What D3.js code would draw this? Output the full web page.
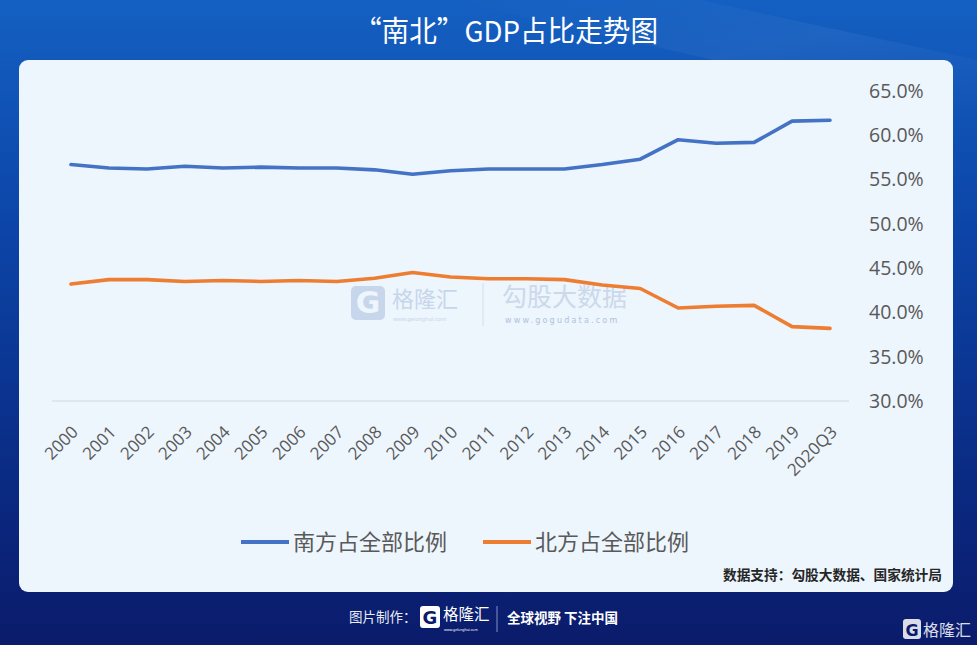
<!DOCTYPE html>
<html><head><meta charset="utf-8">
<script src="https://cdn.jsdelivr.net/npm/d3@7"></script>
<style>html,body{margin:0;padding:0;background:#0b1b6b;}svg{display:block;}</style>
</head><body>
<script>
const categories = ["2000","2001","2002","2003","2004","2005","2006","2007","2008","2009","2010","2011","2012","2013","2014","2015","2016","2017","2018","2019","2020Q3"];
const south = [56.7,56.3,56.2,56.5,56.3,56.4,56.3,56.3,56.1,55.6,56.0,56.2,56.2,56.2,56.7,57.3,59.5,59.1,59.2,61.6,61.7];
const north = [43.2,43.7,43.7,43.5,43.6,43.5,43.6,43.5,43.85,44.5,44.0,43.8,43.8,43.7,43.1,42.7,40.5,40.7,40.8,38.4,38.2];
const yTicks = [30,35,40,45,50,55,60,65];
const seriesNames = ["南方占全部比例","北方占全部比例"];
const colors = ["#4472C4","#ED7D31"];

const W=977,H=645;
const svg=d3.select("body").append("svg").attr("width",W).attr("height",H);
const defs=svg.append("defs");
const g1=defs.append("linearGradient").attr("id","bg").attr("x1",0).attr("y1",0).attr("x2",0).attr("y2",1);
g1.append("stop").attr("offset","0%").attr("stop-color","#1460c2");
g1.append("stop").attr("offset","35%").attr("stop-color","#0c45a8");
g1.append("stop").attr("offset","75%").attr("stop-color","#0a2a82");
g1.append("stop").attr("offset","100%").attr("stop-color","#0b1b6b");
svg.append("rect").attr("width",W).attr("height",H).attr("fill","url(#bg)");
const g2=defs.append("linearGradient").attr("id","streak").attr("x1",0).attr("y1",0).attr("x2",1).attr("y2",1);
g2.append("stop").attr("offset","0%").attr("stop-color","#ffffff").attr("stop-opacity",0);
g2.append("stop").attr("offset","50%").attr("stop-color","#ffffff").attr("stop-opacity",0.05);
g2.append("stop").attr("offset","100%").attr("stop-color","#ffffff").attr("stop-opacity",0);
svg.append("path").attr("d","M450,0 L700,0 L977,60 L977,120 Z").attr("fill","url(#streak)");

// title
svg.append("text").attr("x",506).attr("y",42).attr("text-anchor","middle")
  .attr("font-family","'Noto Sans CJK SC','Noto Sans',sans-serif").attr("font-size",29)
  .attr("fill","#fff").attr("textLength",304).attr("lengthAdjust","spacingAndGlyphs").text("“南北”GDP占比走势图");

// card
svg.append("rect").attr("x",19).attr("y",60).attr("width",934).attr("height",532).attr("rx",9).attr("fill","#edf5fd");

// scales
const x=d3.scalePoint().domain(categories).range([71,830]);
const y=d3.scaleLinear().domain([30,65]).range([401,91]);

// watermark
const wm=svg.append("g").attr("opacity",0.9);
wm.append("rect").attr("x",351).attr("y",286).attr("width",34).attr("height",34).attr("rx",5).attr("fill","#c3d3ea");
wm.append("text").attr("x",368).attr("y",313).attr("text-anchor","middle").attr("font-family","'DejaVu Sans',sans-serif").attr("font-weight","bold").attr("font-size",30).attr("fill","#edf5fd").text("G");
wm.append("text").attr("x",392).attr("y",307).attr("font-family","'Noto Sans CJK SC',sans-serif").attr("font-size",22).attr("fill","#c3d3ea").text("格隆汇");
wm.append("text").attr("x",393).attr("y",321).attr("font-family","'Noto Sans',sans-serif").attr("font-size",5.5).attr("fill","#c3d3ea").text("www.gelonghui.com");
wm.append("line").attr("x1",483).attr("x2",483).attr("y1",283).attr("y2",326).attr("stroke","#d0dcec").attr("stroke-width",1);
wm.append("text").attr("x",502).attr("y",306).attr("font-family","'Noto Sans CJK SC',sans-serif").attr("font-size",25).attr("fill","#c8d6ea").text("勾股大数据");
wm.append("text").attr("x",505).attr("y",323).attr("font-family","'DejaVu Sans',sans-serif").attr("font-size",8).attr("letter-spacing",2.2).attr("fill","#a9bddb").text("www.gogudata.com");

// axis line
svg.append("line").attr("x1",52).attr("x2",849).attr("y1",y(30)).attr("y2",y(30)).attr("stroke","#d4d8de").attr("stroke-width",1.2);

// y tick labels
svg.append("g").selectAll("text").data(yTicks).join("text")
  .attr("x",869).attr("y",d=>y(d)).attr("dy","0.35em")
  .attr("font-family","'Open Sans','Noto Sans',sans-serif").attr("font-size",19.5).attr("fill","#595959")
  .text(d=>d.toFixed(1)+"%");

// x labels
svg.append("g").selectAll("text").data(categories).join("text")
  .attr("transform",d=>`translate(${x(d)+4},${429}) rotate(-45)`)
  .attr("text-anchor","end").attr("dy","0.35em")
  .attr("font-family","'Open Sans','Noto Sans',sans-serif").attr("font-size",17).attr("fill","#595959")
  .text(d=>d);

// lines
const line=d3.line().x((d,i)=>x(categories[i])).y(d=>y(d));
[south,north].forEach((s,i)=>{
  svg.append("path").datum(s).attr("d",line).attr("fill","none").attr("stroke",colors[i])
    .attr("stroke-width",3.6).attr("stroke-linejoin","round").attr("stroke-linecap","round");
});

// legend
const legX=[241,483];
seriesNames.forEach((n,i)=>{
  svg.append("line").attr("x1",legX[i]).attr("x2",legX[i]+48).attr("y1",542).attr("y2",542).attr("stroke",colors[i]).attr("stroke-width",4);
  svg.append("text").attr("x",legX[i]+52).attr("y",542).attr("dy","0.35em")
    .attr("font-family","'Noto Sans CJK SC',sans-serif").attr("font-size",22).attr("fill","#595959").text(n);
});

// source
svg.append("text").attr("x",942).attr("y",575).attr("dy","0.35em").attr("text-anchor","end")
  .attr("font-family","'Noto Sans CJK SC',sans-serif").attr("font-weight","bold").attr("font-size",13.7).attr("fill","#262626")
  .text("数据支持：勾股大数据、国家统计局");

// footer
const ft=svg.append("g");
ft.append("text").attr("x",349).attr("y",617).attr("dy","0.35em").attr("font-family","'Noto Sans CJK SC',sans-serif").attr("font-size",13.5).attr("fill","#e8ecf6").text("图片制作：");
ft.append("rect").attr("x",420).attr("y",606).attr("width",20).attr("height",22).attr("rx",3).attr("fill","#fff");
ft.append("text").attr("x",430).attr("y",624).attr("text-anchor","middle").attr("font-family","'DejaVu Sans',sans-serif").attr("font-weight","bold").attr("font-size",18).attr("fill","#0b1b6b").text("G");
ft.append("text").attr("x",443).attr("y",620).attr("font-family","'Noto Sans CJK SC',sans-serif").attr("font-size",15.5).attr("fill","#fff").text("格隆汇");
ft.append("text").attr("x",444).attr("y",631).attr("font-family","'Noto Sans',sans-serif").attr("font-size",3.5).attr("fill","#fff").text("www.gelonghui.com");
ft.append("line").attr("x1",497).attr("x2",497).attr("y1",606).attr("y2",632).attr("stroke","#6f7fb5").attr("stroke-width",1.2);
ft.append("text").attr("x",507).attr("y",618).attr("dy","0.35em").attr("font-family","'Noto Sans CJK SC',sans-serif").attr("font-weight","bold").attr("font-size",13.5).attr("fill","#fff").text("全球视野 下注中国");

// bottom-right logo
const br=svg.append("g").attr("opacity",0.85);
br.append("rect").attr("x",903).attr("y",619).attr("width",18).attr("height",20).attr("rx",3).attr("fill","#fff");
br.append("text").attr("x",912).attr("y",636).attr("text-anchor","middle").attr("font-family","'DejaVu Sans',sans-serif").attr("font-weight","bold").attr("font-size",16).attr("fill","#0b1b6b").text("G");
br.append("text").attr("x",923).attr("y",636).attr("font-family","'Noto Sans CJK SC',sans-serif").attr("font-size",16).attr("fill","#fff").text("格隆汇");
</script>
</body></html>
